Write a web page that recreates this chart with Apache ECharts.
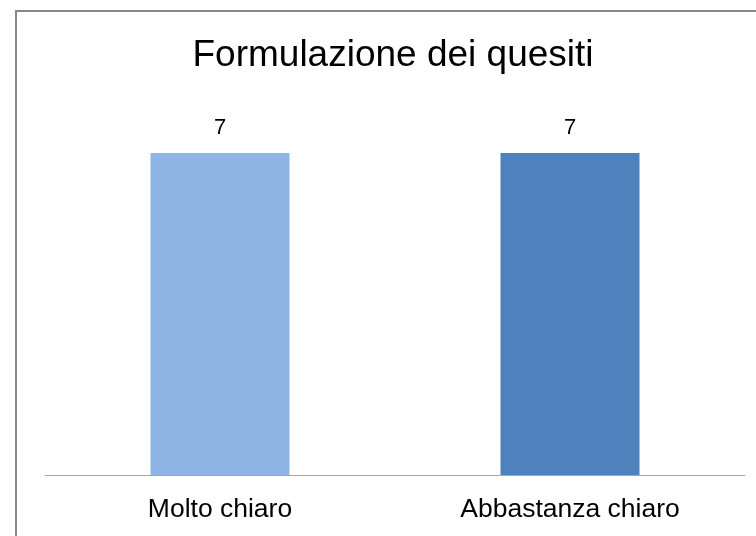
<!DOCTYPE html>
<html>
<head>
<meta charset="utf-8">
<script src="https://cdn.jsdelivr.net/npm/echarts@6/dist/echarts.min.js"></script>
<style>
  html, body { margin: 0; padding: 0; background: #fff; }
  #chart { width: 756px; height: 536px; }
</style>
</head>
<body>
<div id="chart"></div>
<script>
// Formulazione dei quesiti — istogramma a due barre
const categories = ["Molto chiaro", "Abbastanza chiaro"];
const values = [7, 7];
const barColors = ["#8EB4E3", "#4F81BD"];

const chart = echarts.init(document.getElementById("chart"), null, { renderer: "canvas" });
chart.setOption({
  backgroundColor: "#fff",
  animation: false,
  title: {
    text: "Formulazione dei quesiti",
    left: 388,
    top: 32,
    textAlign: "center",
    textStyle: { fontFamily: "Liberation Sans", fontSize: 37, fontWeight: "normal", color: "#000" },
  },
  graphic: [{
    type: "rect",
    shape: { x: 16, y: 11, width: 800, height: 600 },
    style: { fill: "none", stroke: "#888", lineWidth: 2 },
    silent: true,
  }],
  grid: { left: 45, right: 11, top: 153, bottom: 61 },
  xAxis: {
    type: "category",
    data: categories,
    axisLine: { lineStyle: { color: "#A6A6A6", width: 1 } },
    axisTick: { show: false },
    axisLabel: { margin: 21, fontFamily: "Liberation Sans", fontSize: 26.5, color: "#000" },
  },
  yAxis: { type: "value", min: 0, max: 7, show: false, splitLine: { show: false } },
  series: [{
    type: "bar",
    data: values.map((v, i) => ({ value: v, itemStyle: { color: barColors[i] } })),
    barWidth: 139,
    label: {
      show: true,
      position: "top",
      distance: 14,
      fontFamily: "Liberation Sans",
      fontSize: 22,
      color: "#000",
    },
  }],
});
</script>
</body>
</html>
